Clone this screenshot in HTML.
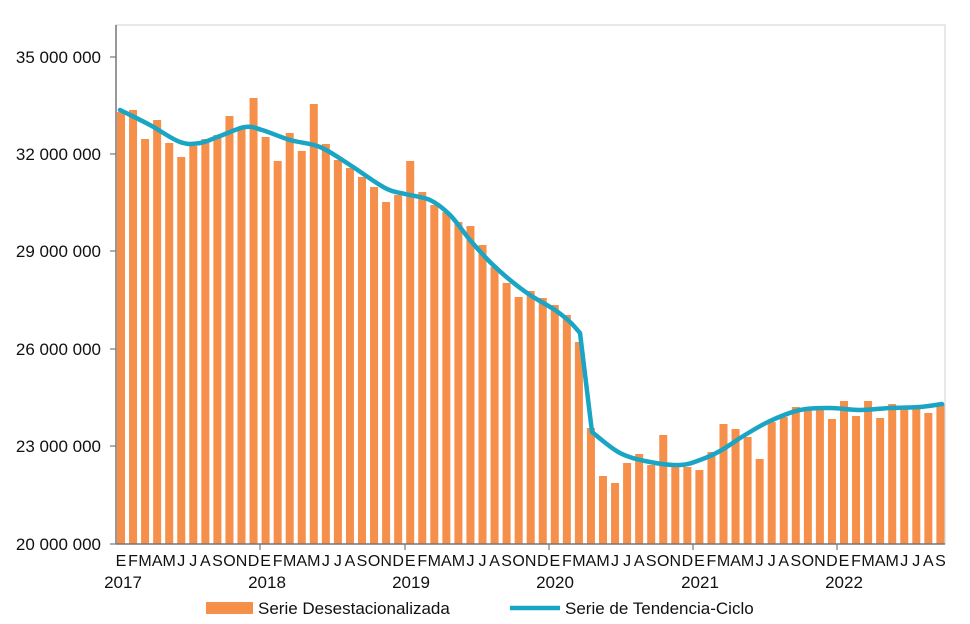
<!DOCTYPE html>
<html><head><meta charset="utf-8"><style>
body{margin:0;background:#fff}
svg{display:block;font-family:"Liberation Sans",sans-serif}
</style></head><body>
<svg width="970" height="624" viewBox="0 0 970 624">
<rect x="116" y="25" width="829" height="519" fill="none" stroke="#d0d0d0" stroke-width="1"/>
<g id="bars" fill="#f58f4a"></g>
<path id="trend" fill="none" stroke="#1ba5c4" stroke-width="4.5" stroke-linejoin="round" stroke-linecap="round"/>
<line x1="116" y1="25" x2="116" y2="544" stroke="#777" stroke-width="1.5"/>
<line x1="116" y1="544" x2="945" y2="544" stroke="#777" stroke-width="1.5"/>
<g stroke="#777" stroke-width="1.2">
<line x1="110" y1="57" x2="116" y2="57"/><line x1="110" y1="154" x2="116" y2="154"/>
<line x1="110" y1="251" x2="116" y2="251"/><line x1="110" y1="349" x2="116" y2="349"/>
<line x1="110" y1="446" x2="116" y2="446"/><line x1="110" y1="544" x2="116" y2="544"/>
<line x1="260" y1="544" x2="260" y2="550"/><line x1="405" y1="544" x2="405" y2="550"/>
<line x1="549" y1="544" x2="549" y2="550"/><line x1="693" y1="544" x2="693" y2="550"/>
<line x1="837" y1="544" x2="837" y2="550"/>
</g>
<g font-size="17" fill="#111" text-anchor="end">
<text x="101" y="63">35 000 000</text><text x="101" y="160">32 000 000</text>
<text x="101" y="257">29 000 000</text><text x="101" y="355">26 000 000</text>
<text x="101" y="452">23 000 000</text><text x="101" y="550">20 000 000</text>
</g>
<g id="months" font-size="16" fill="#111" text-anchor="middle"></g>
<g font-size="17" fill="#111" text-anchor="middle">
<text x="123" y="588">2017</text><text x="267" y="588">2018</text><text x="411" y="588">2019</text>
<text x="555" y="588">2020</text><text x="700" y="588">2021</text><text x="844" y="588">2022</text>
</g>
<rect x="206" y="602" width="47" height="12" fill="#f58f4a"/>
<text x="258" y="614" font-size="17" fill="#111">Serie Desestacionalizada</text>
<line x1="510" y1="608" x2="560" y2="608" stroke="#1ba5c4" stroke-width="4.5"/>
<text x="565" y="614" font-size="17" fill="#111">Serie de Tendencia-Ciclo</text>
</svg>
<script>
var tops=[112,110,139,120,143,157,146,139,135,116,127,98,137,161,133,151,104,144,160,168,177,187,202,195,161,192,205,212,222,226,245,267,283,297,291,298,305,315,342,428,476,483,463,454,465,435,467,467,470,452,424,429,437,459,422,417,407,408,410,419,401,416,401,418,404,407,408,413,404];
var ns="http://www.w3.org/2000/svg",g=document.getElementById('bars'),m=document.getElementById('months');
var L="EFMAMJJASOND";
for(var i=0;i<tops.length;i++){var x=117+12.05*i;var r=document.createElementNS(ns,'rect');
r.setAttribute('x',x);r.setAttribute('y',tops[i]);r.setAttribute('width',8);r.setAttribute('height',544-tops[i]);g.appendChild(r);
var t=document.createElementNS(ns,'text');t.setAttribute('x',x+4);t.setAttribute('y',566);t.textContent=L[i%12];m.appendChild(t);}
var a=[[120,110],[150,125],[180,142],[200,143],[220,136],[245,127],[262,130],[290,140],[320,147],[350,165],[385,188],[405,194],[430,200],[450,215],[470,240],[490,262],[510,280],[530,295],[555,310],[570,322],[580,333]];
var b=[[592,432],[620,453],[650,462],[680,465],[700,460],[720,451],[745,435],[770,421],[800,410],[830,408],[860,410],[890,408],[920,407],[942,404]];
function cr(pts,first){var d=(first?"M":"L")+pts[0];for(var i=0;i<pts.length-1;i++){var p0=pts[i-1]||pts[i],p1=pts[i],p2=pts[i+1],p3=pts[i+2]||p2;
var c1=[p1[0]+(p2[0]-p0[0])/6,p1[1]+(p2[1]-p0[1])/6],c2=[p2[0]-(p3[0]-p1[0])/6,p2[1]-(p3[1]-p1[1])/6];d+="C"+c1+" "+c2+" "+p2;}return d;}
document.getElementById('trend').setAttribute('d',cr(a,true)+cr(b,false));
</script>
</body></html>
